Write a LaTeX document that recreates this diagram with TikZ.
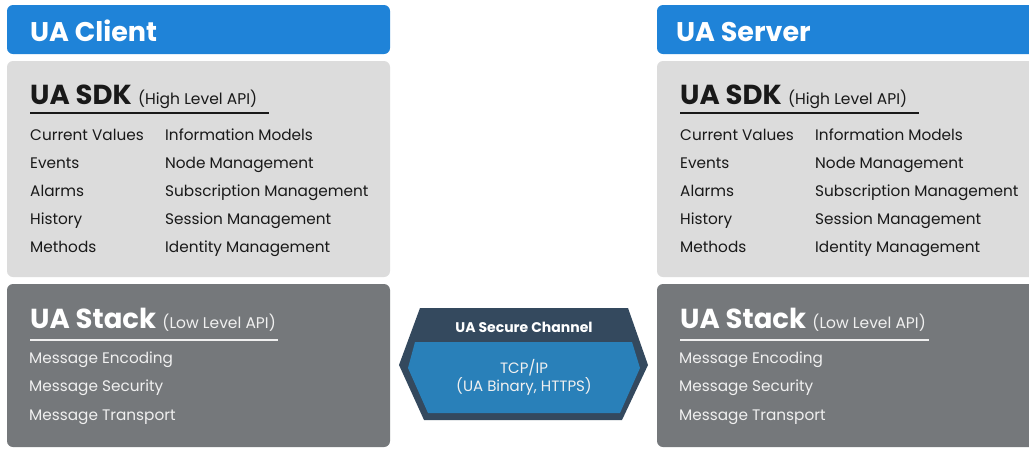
\documentclass[tikz,border=0pt]{standalone}
\usepackage{fontspec}
\setmainfont{Poppins}
\definecolor{hdrblue}{RGB}{31,131,216}
\definecolor{sdkgray}{RGB}{220,220,220}
\definecolor{stackgray}{RGB}{117,120,123}
\definecolor{chdark}{RGB}{52,73,94}
\definecolor{chblue}{RGB}{41,128,185}
\definecolor{sdktext}{RGB}{25,25,25}
\definecolor{stacktext}{RGB}{240,240,240}
\begin{document}
\begin{tikzpicture}[x=1pt,y=-1pt,
  boxbase/.style={rounded corners=6pt},
  hdrtitle/.style={anchor=base west,inner sep=0pt,text=white,font=\fontsize{27}{30}\selectfont\bfseries},
  bigtitle/.style={anchor=base west,inner sep=0pt,font=\fontsize{27.5}{30}\selectfont\bfseries},
  subtitle/.style={anchor=base west,inner sep=0pt,font=\fontsize{15.5}{18}\selectfont},
  item/.style={anchor=base west,inner sep=0pt,font=\fontsize{15.3}{18}\selectfont},
]
\useasboundingbox (0,0) rectangle (1029,448);
\fill[white] (0,0) rectangle (1029,448);

% ---------- Left: UA Client ----------
\fill[hdrblue,boxbase] (7,5) rectangle (390,54);
\fill[sdkgray,boxbase] (7,61) rectangle (390,277);
\fill[stackgray,boxbase] (7,284) rectangle (390,447);
\node[hdrtitle] (lhdr) at (30,41) {UA Client};
\node[bigtitle,text=sdktext] (lsdk) at (30,104) {UA SDK};
\node[subtitle,text=sdktext] (lsdksub) at ([xshift=6pt]lsdk.base east) {(High Level API)};
\draw[sdktext,line width=1.5pt] (30,113) -- (269,113);
\foreach \t [count=\i from 0] in {Current Values,Events,Alarms,History,Methods}
  \node[item,text=sdktext] (lc1\i) at (30,140+28*\i) {\t};
\foreach \t [count=\i from 0] in {Information Models,Node Management,Subscription Management,Session Management,Identity Management}
  \node[item,text=sdktext] (lc2\i) at (165,140+28*\i) {\t};
\node[bigtitle,text=white] (lstk) at (30,328) {UA Stack};
\node[subtitle,text=stacktext] (lstksub) at ([xshift=6pt]lstk.base east) {(Low Level API)};
\draw[stacktext,line width=1.5pt] (30,340) -- (278,340);
\foreach \t [count=\i from 0] in {Message Encoding,Message Security,Message Transport}
  \node[item,text=stacktext] (ls\i) at (29,363+28.5*\i) {\t};

% ---------- Right: UA Server ----------
\fill[hdrblue,boxbase] (657,5) rectangle (1040,54);
\fill[sdkgray,boxbase] (657,61) rectangle (1040,277);
\fill[stackgray,boxbase] (657,284) rectangle (1040,447);
\node[hdrtitle] (rhdr) at (676,41) {UA Server};
\node[bigtitle,text=sdktext] (rsdk) at (680,104) {UA SDK};
\node[subtitle,text=sdktext] (rsdksub) at ([xshift=6pt]rsdk.base east) {(High Level API)};
\draw[sdktext,line width=1.5pt] (680,113) -- (919,113);
\foreach \t [count=\i from 0] in {Current Values,Events,Alarms,History,Methods}
  \node[item,text=sdktext] (rc1\i) at (680,140+28*\i) {\t};
\foreach \t [count=\i from 0] in {Information Models,Node Management,Subscription Management,Session Management,Identity Management}
  \node[item,text=sdktext] (rc2\i) at (815,140+28*\i) {\t};
\node[bigtitle,text=white] (rstk) at (680,328) {UA Stack};
\node[subtitle,text=stacktext] (rstksub) at ([xshift=6pt]rstk.base east) {(Low Level API)};
\draw[stacktext,line width=1.5pt] (680,340) -- (929,340);
\foreach \t [count=\i from 0] in {Message Encoding,Message Security,Message Transport}
  \node[item,text=stacktext] (rs\i) at (679,363+28.5*\i) {\t};

% ---------- Secure channel ----------
\fill[chdark] (420,308) -- (628,308) -- (648,365) -- (622,420) -- (424,420) -- (399,365) -- cycle;
\fill[chblue] (415,342) -- (632,342) -- (640,368) -- (620,413) -- (428,413) -- (408,368) -- cycle;
\node[inner sep=0pt,text=white,font=\fontsize{14}{16}\selectfont\bfseries] (sc) at (524,327) {UA Secure Channel};
\node[inner sep=0pt,text=stacktext,align=center,font=\fontsize{15}{18}\selectfont] (tcp) at (524,377) {TCP/IP\\(UA Binary, HTTPS)};
\end{tikzpicture}
\end{document}
